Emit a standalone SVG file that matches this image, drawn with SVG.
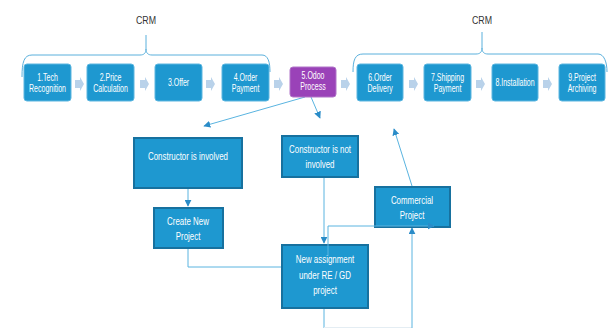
<svg xmlns="http://www.w3.org/2000/svg" width="616" height="328" viewBox="0 0 616 328">
<defs>
<style>
.t{font-family:"Liberation Sans",Arial,sans-serif;font-size:10px;fill:#ffffff;text-anchor:middle;transform-box:fill-box;transform-origin:center;transform:scaleX(0.7)}
.tl{font-size:11px;transform:scaleX(0.72)}
.crm{font-family:"Liberation Sans",Arial,sans-serif;font-size:11px;fill:#333333;text-anchor:middle;transform-box:fill-box;transform-origin:center;transform:scaleX(0.8)}
.top{fill:#1e98d0;stroke:#5cb6e0;stroke-width:1}
.low{fill:#1e98d0;stroke:#17719f;stroke-width:2}
.purple{fill:#9a42b8;stroke:#b074c8;stroke-width:1}
.brace{fill:none;stroke:#5ab0dc;stroke-width:1}
.ln{fill:none;stroke:#5ab4e0;stroke-width:1}
.chev{fill:#b9d2ea}
</style>
<marker id="ah" viewBox="0 0 10 10" refX="9" refY="5" markerWidth="7" markerHeight="7" orient="auto-start-reverse" markerUnits="userSpaceOnUse">
<path d="M0,0 L10,5 L0,10 Z" fill="#2a8cc8"/>
</marker>
<path id="chev" d="M0,-4 H5 V-7 L9,0 L5,7 V4 H0 Z"/>
</defs>
<rect width="616" height="328" fill="#ffffff"/>

<g id="braces">
<path class="brace" d="M22,77 C22,62 24,55 32,55 H140 C144,55 146,53 146,49 V35 M146,49 C146,53 148,55 152,55 H262 C268,55 270,62 270,72"/>
<path class="brace" d="M353,72 C353,60 355,54 363,54 H476 C480,54 482,52 482,48 V32 M482,48 C482,52 484,54 488,54 H598 C604,54 607,62 607,72"/>
<text class="crm" x="146" y="24">CRM</text>
<text class="crm" x="482" y="24">CRM</text>
</g>

<g id="chevrons" class="chev">
<use href="#chev" x="75" y="84"/>
<use href="#chev" x="140" y="84"/>
<use href="#chev" x="206" y="84"/>
<use href="#chev" x="274" y="84"/>
<use href="#chev" x="341" y="84"/>
<use href="#chev" x="409" y="84"/>
<use href="#chev" x="476" y="84"/>
<use href="#chev" x="543" y="84"/>
</g>

<g id="connectors">
<line class="ln" x1="305" y1="97" x2="204" y2="126" marker-end="url(#ah)"/>
<line class="ln" x1="311" y1="97" x2="320" y2="118" marker-end="url(#ah)"/>
<line class="ln" x1="188" y1="188" x2="188" y2="206" marker-end="url(#ah)"/>
<line class="ln" x1="324" y1="177" x2="324" y2="243" marker-end="url(#ah)"/>
<polyline class="ln" points="188,248 188,267 282,267"/>
<line class="ln" x1="324" y1="308" x2="324" y2="328"/>
<line x1="324" y1="327.5" x2="412" y2="327.5" stroke="#e4edf3" stroke-width="1"/>
<line class="ln" x1="412" y1="328" x2="412" y2="228" marker-end="url(#ah)"/>
<line class="ln" x1="412" y1="186" x2="394" y2="129" marker-end="url(#ah)"/>
</g>

<g id="n1"><rect class="top" x="24" y="64" width="47" height="37" rx="3"/><text class="t" x="47.5" y="81">1.Tech</text><text class="t" x="47.5" y="92">Recognition</text></g>
<g id="n2"><rect class="top" x="87" y="64" width="47" height="37" rx="3"/><text class="t" x="110.5" y="81">2.Price</text><text class="t" x="110.5" y="92">Calculation</text></g>
<g id="n3"><rect class="top" x="155" y="64" width="47" height="37" rx="3"/><text class="t" x="178.5" y="86">3.Offer</text></g>
<g id="n4"><rect class="top" x="222" y="64" width="47" height="37" rx="3"/><text class="t" x="245.5" y="81">4.Order</text><text class="t" x="245.5" y="92">Payment</text></g>
<g id="n5"><rect class="purple" x="290" y="67" width="46" height="30" rx="3"/><text class="t" x="313" y="79">5.Odoo</text><text class="t" x="313" y="90">Process</text></g>
<g id="n6"><rect class="top" x="357" y="64" width="46" height="37" rx="3"/><text class="t" x="380" y="81">6.Order</text><text class="t" x="380" y="92">Delivery</text></g>
<g id="n7"><rect class="top" x="424" y="64" width="47" height="37" rx="3"/><text class="t" x="447.5" y="81">7.Shipping</text><text class="t" x="447.5" y="92">Payment</text></g>
<g id="n8"><rect class="top" x="492" y="64" width="46" height="37" rx="3"/><text class="t" x="515" y="86">8.Installation</text></g>
<g id="n9"><rect class="top" x="559" y="64" width="46" height="37" rx="3"/><text class="t" x="582" y="81">9.Project</text><text class="t" x="582" y="92">Archiving</text></g>

<g id="involved"><rect class="low" x="134" y="138" width="108" height="50"/><text class="t tl" x="188" y="160">Constructor  is involved</text></g>
<g id="notinvolved"><rect class="low" x="282" y="136" width="76" height="41"/><text class="t tl" x="320" y="153">Constructor  is not</text><text class="t tl" x="320" y="168">involved</text></g>
<g id="createnew"><rect class="low" x="154" y="208" width="69" height="40"/><text class="t tl" x="188" y="225">Create New</text><text class="t tl" x="188" y="240">Project</text></g>
<g id="newassign"><rect class="low" x="282" y="245" width="86" height="63"/><text class="t tl" x="325" y="263">New assignment</text><text class="t tl" x="325" y="279">under RE / GD</text><text class="t tl" x="325" y="294">project</text></g>
<g id="commercial"><rect class="low" x="375" y="187" width="75" height="40"/><text class="t tl" x="412" y="204">Commercial</text><text class="t tl" x="412" y="219">Project</text></g>
<g id="connectors-over">
<polyline class="ln" points="328,256 328,226 434,226" marker-end="url(#ah)"/>
</g>
</svg>
